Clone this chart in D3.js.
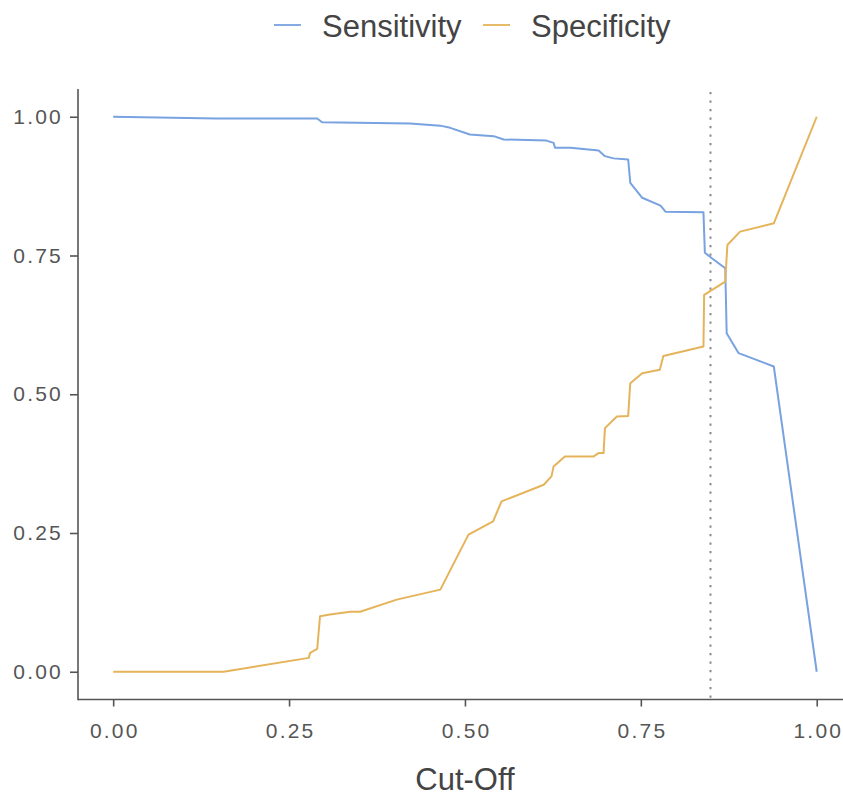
<!DOCTYPE html>
<html>
<head>
<meta charset="utf-8">
<script src="https://cdn.jsdelivr.net/npm/d3@7"></script>
<style>
  html, body { margin: 0; padding: 0; background: #fff; }
  svg { display: block; }
  text { font-family: "Liberation Sans", Arial, sans-serif; }
</style>
</head>
<body>
<svg id="chart" width="843" height="799"></svg>
<script>
// ---- data ----
const seriesNames = ["Sensitivity", "Specificity"];
const seriesColors = ["#78A2E0", "#E5B45A"];

const sensCutoff = [0, 0.147, 0.29, 0.297, 0.422, 0.465, 0.479, 0.507, 0.541, 0.555, 0.616, 0.626, 0.628, 0.65, 0.69, 0.699, 0.711, 0.732, 0.735, 0.752, 0.778, 0.785, 0.839, 0.841, 0.851, 0.87, 0.872, 0.889, 0.939, 1.0];
const sensValue  = [1.0, 0.997, 0.997, 0.99, 0.988, 0.984, 0.98, 0.968, 0.965, 0.959, 0.957, 0.953, 0.944, 0.944, 0.939, 0.929, 0.925, 0.923, 0.881, 0.854, 0.84, 0.829, 0.828, 0.755, 0.745, 0.727, 0.61, 0.574, 0.55, 0];

const specCutoff = [0, 0.157, 0.278, 0.28, 0.29, 0.294, 0.308, 0.337, 0.351, 0.403, 0.465, 0.505, 0.54, 0.552, 0.612, 0.623, 0.626, 0.642, 0.683, 0.69, 0.697, 0.699, 0.716, 0.732, 0.735, 0.752, 0.777, 0.782, 0.839, 0.840, 0.87, 0.873, 0.891, 0.939, 1.0];
const specValue  = [0, 0, 0.025, 0.034, 0.041, 0.1, 0.103, 0.108, 0.108, 0.13, 0.148, 0.247, 0.271, 0.307, 0.337, 0.352, 0.37, 0.388, 0.388, 0.394, 0.394, 0.439, 0.46, 0.461, 0.52, 0.538, 0.544, 0.569, 0.586, 0.679, 0.703, 0.769, 0.793, 0.808, 1.0];

const optimalCutoff = 0.849;
const xTicks = [0, 0.25, 0.5, 0.75, 1.0];
const yTicks = [0, 0.25, 0.5, 0.75, 1.0];
const xTitle = "Cut-Off";

// ---- layout ----
const svg = d3.select("#chart");
const x = d3.scaleLinear().domain([-0.05, 1.05]).range([78, 851.9]);
const y = d3.scaleLinear().domain([-0.05, 1.05]).range([699.5, 89]);

const axisColor = "#555555";
const labelColor = "#555555";

// axis lines
svg.append("line")
  .attr("x1", x(-0.05)).attr("x2", 843)
  .attr("y1", y(-0.05)).attr("y2", y(-0.05))
  .attr("stroke", axisColor).attr("stroke-width", 1.6);
svg.append("line")
  .attr("x1", x(-0.05)).attr("x2", x(-0.05))
  .attr("y1", y(1.05)).attr("y2", y(-0.05) + 0.8)
  .attr("stroke", axisColor).attr("stroke-width", 1.6);

// x axis
const gx = svg.append("g")
  .attr("transform", `translate(0,${y(-0.05)})`)
  .call(d3.axisBottom(x).tickValues(xTicks).tickFormat(d3.format(".2f")).tickSize(7).tickPadding(17));
gx.select(".domain").remove();
gx.selectAll(".tick line").attr("stroke", axisColor).attr("stroke-width", 1.6);
gx.selectAll(".tick text")
  .attr("fill", labelColor)
  .style("font-size", "21px")
  .style("letter-spacing", "2.2px")
  .attr("dx", "1.1px");

// y axis
const gy = svg.append("g")
  .attr("transform", `translate(${x(-0.05)},0)`)
  .call(d3.axisLeft(y).tickValues(yTicks).tickFormat(d3.format(".2f")).tickSize(8).tickPadding(7));
gy.select(".domain").remove();
gy.selectAll(".tick line").attr("stroke", axisColor).attr("stroke-width", 1.6);
gy.selectAll(".tick text")
  .attr("fill", labelColor)
  .style("font-size", "21px")
  .style("letter-spacing", "2.2px");

// optimal cut-off dotted line
svg.append("line")
  .attr("x1", x(optimalCutoff)).attr("x2", x(optimalCutoff))
  .attr("y1", y(1.05) + 3).attr("y2", y(-0.05))
  .attr("stroke", "#8a8a8a").attr("stroke-width", 2)
  .attr("stroke-dasharray", "2.2,6.3");

// series lines
const line = d3.line().x(d => x(d[0])).y(d => y(d[1]));
const sensData = sensCutoff.map((c, i) => [c, sensValue[i]]);
const specData = specCutoff.map((c, i) => [c, specValue[i]]);

svg.append("path").datum(sensData)
  .attr("d", line).attr("fill", "none")
  .attr("stroke", seriesColors[0]).attr("stroke-width", 2)
  .attr("stroke-linejoin", "round");
svg.append("path").datum(specData)
  .attr("d", line).attr("fill", "none")
  .attr("stroke", seriesColors[1]).attr("stroke-width", 2)
  .attr("stroke-linejoin", "round");

// x axis title
svg.append("text")
  .attr("x", (x(-0.05) + x(1.05)) / 2).attr("y", 790)
  .attr("text-anchor", "middle")
  .attr("fill", "#444")
  .style("font-size", "31px")
  .text(xTitle);

// legend
const legendItems = [
  { name: seriesNames[0], color: seriesColors[0], x0: 274 },
  { name: seriesNames[1], color: seriesColors[1], x0: 483 }
];
const lg = svg.append("g");
legendItems.forEach(it => {
  lg.append("line")
    .attr("x1", it.x0).attr("x2", it.x0 + 27)
    .attr("y1", 25).attr("y2", 25)
    .attr("stroke", it.color).attr("stroke-width", 1.8);
  lg.append("text")
    .attr("x", it.x0 + 48).attr("y", 37)
    .attr("fill", "#444")
    .style("font-size", "31px")
    .text(it.name);
});
</script>
</body>
</html>
